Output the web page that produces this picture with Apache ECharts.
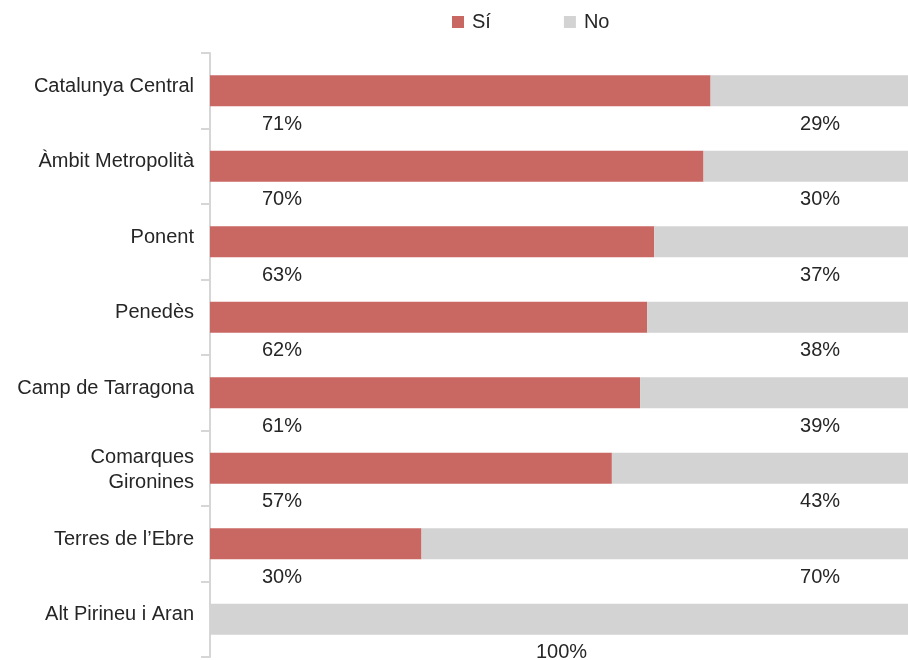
<!DOCTYPE html>
<html>
<head>
<meta charset="utf-8">
<script src="https://cdn.jsdelivr.net/npm/echarts@6/dist/echarts.min.js"></script>
<style>html,body{margin:0;padding:0;background:#fff}#c{width:908px;height:660px}</style>
</head>
<body>
<div id="c"></div>
<script>
const categories = ['Catalunya Central', 'Àmbit Metropolità', 'Ponent', 'Penedès', 'Camp de Tarragona', 'Comarques\nGironines', 'Terres de l\u2019Ebre', 'Alt Pirineu i Aran'];
const siValues = [71, 70, 63, 62, 61, 57, 30, 0];
const noValues = [29, 30, 37, 38, 39, 43, 70, 100];
const seriesNames = ['Sí', 'No'];

const FONT = 'Liberation Sans';
const TXT = '#262626';
const FS = 20;
const chart = echarts.init(document.getElementById('c'));
chart.setOption({
  animation: false,
  textStyle: { fontFamily: FONT },
  legend: {
    top: 7, left: 447, itemWidth: 12, itemHeight: 12, itemGap: 73,
    icon: 'rect',
    textStyle: { fontFamily: FONT, fontSize: FS, color: TXT, padding: [0, 0, 0, 3] },
    data: seriesNames
  },
  grid: { left: 210, right: 0, top: 53, bottom: 3, containLabel: false },
  // the source chart's value axis runs a few pixels past the right edge of the picture
  xAxis: { type: 'value', min: 0, max: 99, show: false },
  yAxis: {
    type: 'category', inverse: true, data: categories,
    axisLine: { show: true, lineStyle: { color: '#d6d6d6', width: 2 } },
    axisTick: { show: true, length: 9, lineStyle: { color: '#d6d6d6', width: 2 } },
    axisLabel: {
      fontFamily: FONT, fontSize: FS, color: TXT, margin: 16, lineHeight: 25,
      formatter: v => v.indexOf('\n') >= 0
        ? v.split('\n').map(s => '{m|' + s + '}').join('\n')
        : '{s|' + v + '}',
      rich: {
        s: { fontFamily: FONT, fontSize: FS, color: TXT, lineHeight: 22, padding: [0, 0, 9, 0] },
        m: { fontFamily: FONT, fontSize: FS, color: TXT, lineHeight: 25, padding: [3, 0, 0, 0] }
      }
    }
  },
  series: [
    {
      name: seriesNames[0], type: 'bar', stack: 't', barWidth: 31, clip: false,
      itemStyle: { color: '#c96762' },
      data: siValues.map(v => ({ value: v, label: { show: v > 0 } })),
      label: {
        position: [72, 49], align: 'center', verticalAlign: 'middle',
        fontFamily: FONT, fontSize: FS, color: TXT, formatter: p => p.value + '%'
      }
    },
    {
      name: seriesNames[1], type: 'bar', stack: 't', barWidth: 31, clip: false,
      itemStyle: { color: '#d2d3d2' },
      data: noValues.map(v => v === 100
        ? { value: v, label: { position: ['50%', 49], offset: [-1, 0] } }
        : { value: v }),
      label: {
        show: true, position: ['100%', 49], offset: [-95, 0], align: 'center', verticalAlign: 'middle',
        fontFamily: FONT, fontSize: FS, color: TXT, formatter: p => p.value + '%'
      }
    }
  ]
});
</script>
</body>
</html>
